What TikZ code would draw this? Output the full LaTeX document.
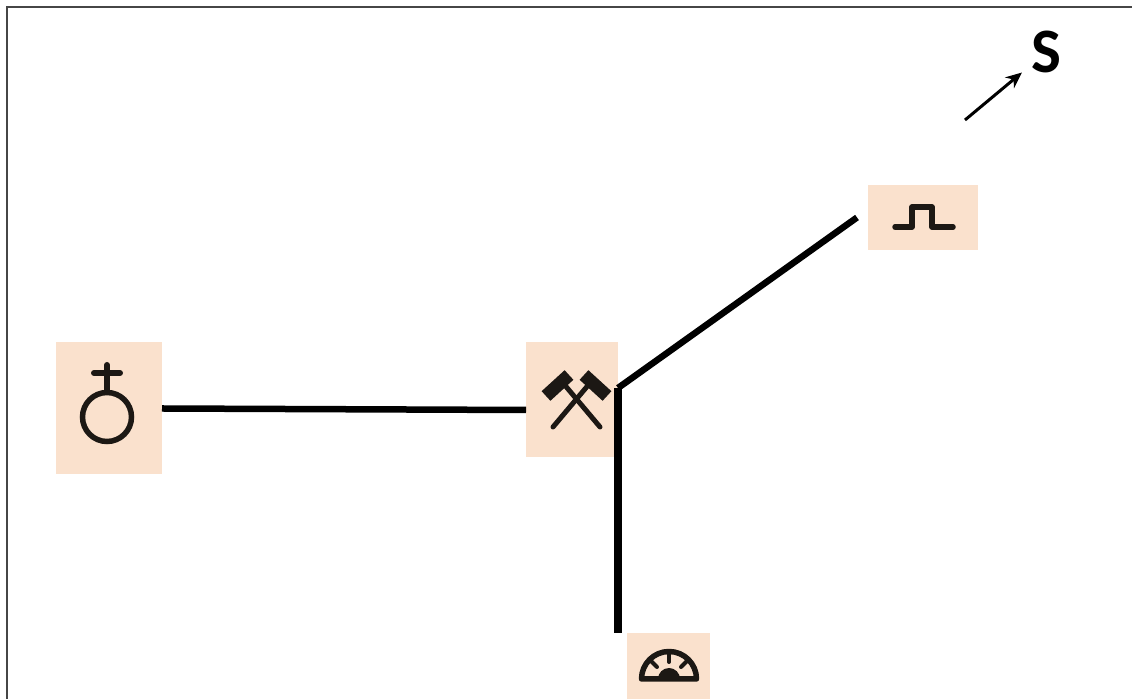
\documentclass[tikz,border=0pt]{standalone}
\usepackage{fontspec}
\setsansfont{Carlito}
\usetikzlibrary{arrows.meta,calc}
\definecolor{peach}{RGB}{250,225,205}
\definecolor{framegray}{RGB}{70,70,70}
\definecolor{iconblack}{RGB}{28,24,20}
\tikzset{
    iconbox/.style={fill=peach, inner sep=0pt, outer sep=0pt},
    linkline/.style={line width=0.065cm, black},
    iconline/.style={line width=0.055cm, iconblack, line cap=round},
    frameline/.style={line width=0.02cm, framegray}
}

\begin{document}
\begin{tikzpicture}
    \useasboundingbox (0,0) rectangle (11.32,6.99);

    % Frame
    \coordinate (framecorner) at (0.07,6.92);
    \draw[frameline] (0.07,0) -- (framecorner) -- (11.32,6.92);

    % Boxes
    \node[iconbox, minimum width=1.06cm, minimum height=1.32cm] (venus) at (1.09,2.91) {};
    \node[iconbox, minimum width=0.92cm, minimum height=1.15cm] (hammer) at (5.72,2.995) {};
    \node[iconbox, minimum width=1.10cm, minimum height=0.65cm] (pulse) at (9.23,4.815) {};
    \node[iconbox, minimum width=0.83cm, minimum height=0.66cm] (gauge) at (6.685,0.33) {};

    % Links
    \coordinate (junction) at ([yshift=0.115cm]hammer.east);
    \draw[linkline] ([yshift=-0.005cm]venus.east) -- ([yshift=-0.105cm]hammer.west);
    \draw[linkline] (junction) -- ([xshift=-0.11cm]pulse.west);
    \draw[linkline, line width=0.075cm] (junction) -- (junction |- gauge.north);

    % Orb
    \draw[iconline] (1.07,2.82) circle (0.245);
    \draw[iconline, line width=0.06cm] (1.07,3.07) -- (1.07,3.34);
    \draw[iconline, line width=0.06cm] (0.94,3.26) -- (1.20,3.26);

    % Crossed hammers
    \draw[iconline, line width=0.05cm] (5.53,2.72) -- (5.90,3.16);
    \draw[iconline, line width=0.05cm] (6.00,2.72) -- (5.63,3.16);
    \draw[iconline, line width=0.13cm, line cap=butt] (5.46,3.03) -- (5.69,3.24);
    \draw[iconline, line width=0.13cm, line cap=butt] (6.07,3.03) -- (5.84,3.24);

    % Pulse
    \draw[iconline, line join=round] (8.95,4.72) -- (9.12,4.72) -- (9.12,4.92) -- (9.32,4.92) -- (9.32,4.72) -- (9.53,4.72);

    % Gauge
    \draw[iconline, line join=round] (6.415,0.20) arc (180:0:0.275) -- cycle;
    \fill[iconblack] (6.58,0.20) arc (180:0:0.11) -- cycle;
    \foreach \a in {45, 90, 135}
        \draw[iconline, line width=0.04cm] ($(6.69,0.20)+(\a:0.27)$) -- ($(6.69,0.20)+(\a:0.17)$);

    % South arrow
    \node[font=\sffamily\bfseries\fontsize{18}{18}\selectfont, inner sep=0.09cm, black] (south) at (10.465,6.47) {S};
    \coordinate (arrowtail) at (9.65,5.79);
    \draw[-{Stealth[length=0.16cm,width=0.14cm]}, line width=0.03cm] (arrowtail) -- (south);
\end{tikzpicture}
\end{document}
